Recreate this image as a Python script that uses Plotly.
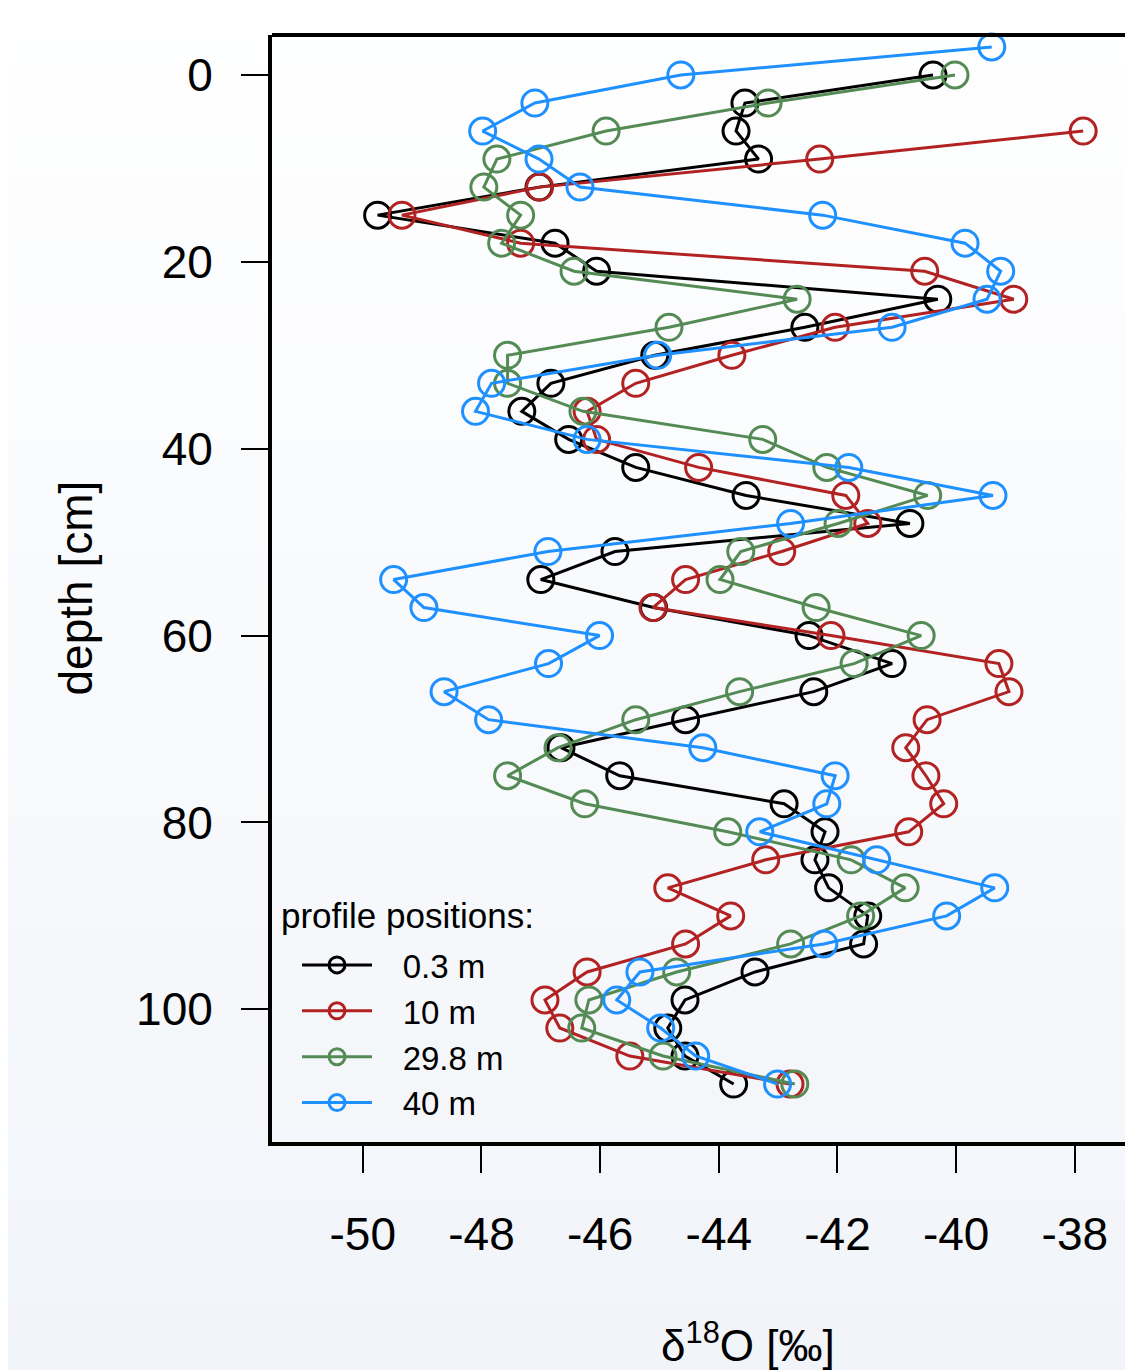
import plotly.graph_objects as go

# depth [cm] for each profile
depth_03 = [0, 3, 6, 9, 12, 15, 18, 21, 24, 27, 30, 33, 36, 39, 42, 45, 48, 51, 54, 57, 60,
            63, 66, 69, 72, 75, 78, 81, 84, 87, 90, 93, 96, 99, 102, 105, 108]
d18o_03 = [-40.39, -43.56, -43.71, -43.33, -47.03, -49.75, -46.76, -46.06, -40.31, -42.55,
           -45.08, -46.83, -47.32, -46.53, -45.40, -43.54, -40.78, -45.75, -47.00, -45.10,
           -42.48, -41.08, -42.40, -44.56, -46.66, -45.67, -42.90, -42.21, -42.38, -42.15,
           -41.49, -41.56, -43.39, -44.57, -44.86, -44.57, -43.75]

depth_10 = [6, 9, 12, 15, 18, 21, 24, 27, 30, 33, 36, 39, 42, 45, 48, 51, 54, 57, 60,
            63, 66, 69, 72, 75, 78, 81, 84, 87, 90, 93, 96, 99, 102, 105, 108]
d18o_10 = [-37.86, -42.30, -47.02, -49.34, -47.34, -40.53, -39.03, -42.04, -43.78, -45.40,
           -46.22, -46.06, -44.34, -41.86, -41.49, -42.94, -44.56, -45.11, -42.11, -39.28,
           -39.11, -40.49, -40.85, -40.51, -40.21, -40.80, -43.21, -44.86, -43.80, -44.56,
           -46.22, -46.93, -46.68, -45.50, -42.80]

depth_298 = [0, 3, 6, 9, 12, 15, 18, 21, 24, 27, 30, 33, 36, 39, 42, 45, 48, 51, 54, 57, 60,
             63, 66, 69, 72, 75, 78, 81, 84, 87, 90, 93, 96, 99, 102, 105, 108]
d18o_298 = [-40.02, -43.17, -45.90, -47.74, -47.96, -47.34, -47.66, -46.44, -42.68, -44.84,
            -47.56, -47.56, -46.29, -43.26, -42.18, -40.48, -41.99, -43.63, -43.98, -42.36,
            -40.59, -41.72, -43.65, -45.40, -46.71, -47.56, -46.26, -43.85, -41.77, -40.86,
            -41.61, -42.79, -44.71, -46.19, -46.31, -44.94, -42.72]

depth_40 = [-3, 0, 3, 6, 9, 12, 15, 18, 21, 24, 27, 30, 33, 36, 39, 42, 45, 48, 51, 54, 57, 60,
            63, 66, 69, 72, 75, 78, 81, 84, 87, 90, 93, 96, 99, 102, 105, 108]
d18o_40 = [-39.40, -44.64, -47.10, -47.98, -47.03, -46.34, -42.25, -39.85, -39.25, -39.48,
           -41.08, -45.03, -47.83, -48.10, -46.22, -41.81, -39.38, -42.79, -46.88, -49.48,
           -48.97, -46.01, -46.87, -48.63, -47.88, -44.27, -42.04, -42.18, -43.31, -41.34,
           -39.35, -40.16, -42.23, -45.33, -45.72, -44.98, -44.39, -43.01]

series_names = ["0.3 m", "10 m", "29.8 m", "40 m"]
series_colors = ["#000000", "#B22222", "#548B54", "#1E90FF"]
series_x = [d18o_03, d18o_10, d18o_298, d18o_40]
series_y = [depth_03, depth_10, depth_298, depth_40]

x_ticks = [-50, -48, -46, -44, -42, -40, -38]
y_ticks = [0, 20, 40, 60, 80, 100]

FONT = "Liberation Sans, Arial, Helvetica, sans-serif"

fig = go.Figure()
for name, col, xs, ys in zip(series_names, series_colors, series_x, series_y):
    fig.add_trace(go.Scatter(
        x=xs, y=ys, name="\u2002\u00a0" + name, mode="lines+markers",
        line=dict(color=col, width=3),
        marker=dict(symbol="circle-open", size=26, color=col, line=dict(color=col, width=3)),
        cliponaxis=False,
    ))

# background gradient (white at top to pale blue-grey at bottom), page pixel coords
PW, PH = 861.0, 1107.0          # plot area size
PL, PB = 272.0, 1142.0          # plot area left / bottom in page pixels
shapes = []
n = 40
top_c = (255, 255, 255)
bot_c = (241, 244, 249)
H = 1370.0
for i in range(n):
    py0 = i * H / n
    py1 = (i + 1) * H / n
    t = (i + 0.5) / n
    c = tuple(int(round(top_c[k] + (bot_c[k] - top_c[k]) * t)) for k in range(3))
    shapes.append(dict(type="rect", xref="paper", yref="paper", layer="below",
                       x0=-PL / PW, x1=1.01,
                       y0=(PB - py1) / PH, y1=(PB - py0) / PH,
                       fillcolor="rgb(%d,%d,%d)" % c, line=dict(width=0)))
# top border of the box
shapes.append(dict(type="line", xref="paper", yref="paper", x0=0, x1=1.01, y0=1, y1=1,
                   line=dict(color="black", width=4), layer="above"))

fig.update_layout(
    width=1125, height=1362,
    margin=dict(l=264, r=0, t=27, b=228, pad=0),
    paper_bgcolor="white",
    plot_bgcolor="rgba(0,0,0,0)",
    font=dict(family=FONT, color="black"),
    shapes=shapes,
    showlegend=True,
    legend=dict(
        x=(297 - PL) / PW, y=0.01, xanchor="left", yanchor="bottom",
        bgcolor="rgba(0,0,0,0)", borderwidth=0,
        font=dict(size=33, family=FONT, color="black"),
        itemwidth=70, tracegroupgap=0,
    ),
    annotations=[
        dict(text="profile positions:", xref="paper", yref="paper",
             x=(279 - PL) / PW, y=(PB - 915) / PH, xanchor="left", yanchor="middle",
             showarrow=False, font=dict(size=35, family=FONT, color="black")),
        dict(text="depth [cm]", xref="paper", yref="paper", x=(75 - PL) / PW, y=0.5,
             xanchor="center", yanchor="middle", textangle=-90, showarrow=False,
             font=dict(size=46, family=FONT, color="black")),
        dict(text="δ<sup>18</sup>O [‰]", xref="paper", yref="paper", x=(748 - PL) / PW,
             y=(PB - 1342) / PH, xanchor="center", yanchor="middle", showarrow=False,
             font=dict(size=44, family=FONT, color="black")),
    ],
)

fig.update_xaxes(
    range=[-51.53, -37.02], tickvals=x_ticks, ticktext=[str(v) for v in x_ticks],
    showgrid=False, zeroline=False, showline=True, linecolor="black", linewidth=4,
    ticks="outside", ticklen=27, tickwidth=2, tickcolor="black",
    tickfont=dict(size=46, family=FONT, color="black"), ticklabelstandoff=22,
)
fig.update_yaxes(
    range=[114.2, -4.28], tickvals=y_ticks, ticktext=[str(v) for v in y_ticks],
    showgrid=False, zeroline=False, showline=True, linecolor="black", linewidth=4,
    ticks="outside", ticklen=27, tickwidth=2, tickcolor="black",
    tickfont=dict(size=46, family=FONT, color="black"), ticklabelstandoff=19,
)

fig.write_html("out.html")
